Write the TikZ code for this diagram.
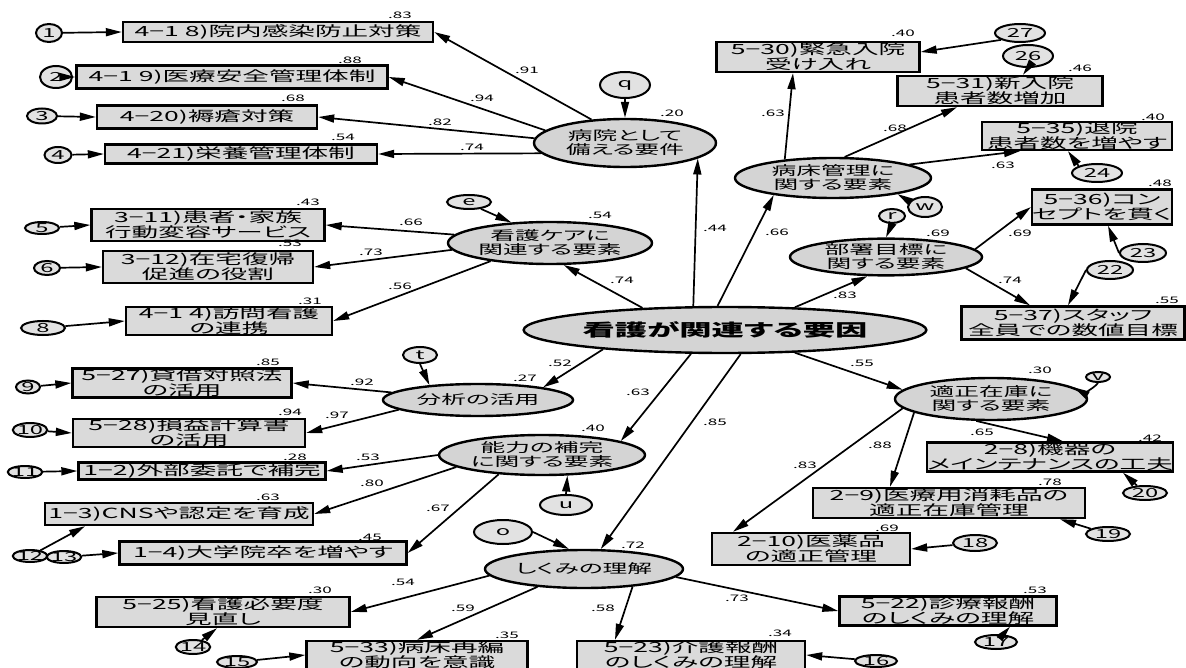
\documentclass[tikz,border=0pt]{standalone}
\usepackage{fontspec}
\setmainfont{Noto Sans CJK JP}[FakeStretch=1.9, RawFeature=+palt]
\usetikzlibrary{arrows.meta,shapes.geometric}

\definecolor{boxgray}{RGB}{218,218,218}
\definecolor{latgray}{RGB}{212,212,212}
\definecolor{errgray}{RGB}{226,226,226}
\newcommand{\boxfont}{\fontsize{14}{15}\selectfont}
\newcommand{\latfont}{\fontsize{13}{14}\selectfont}
\newcommand{\coeffont}{\fontsize{9}{9}\selectfont}
\newcommand{\errfont}{\fontsize{12.5}{12.5}\selectfont}

\begin{document}
\begin{tikzpicture}[
    x=1pt, y=-1pt,
    obs/.style={draw, line width=2.4pt, fill=boxgray, inner sep=0pt, align=center, font=\boxfont},
    lat/.style={ellipse, draw, line width=2.4pt, fill=latgray, inner sep=0pt, align=center, font=\latfont},
    err/.style={ellipse, draw, line width=2pt, fill=errgray, inner sep=-1pt, font=\errfont},
    arr/.style={-{Triangle[length=16pt,width=8pt]}, line width=1.7pt},
    coef/.style={inner sep=0pt, font=\coeffont},
]
    \useasboundingbox (0,0) rectangle (1186,668);

    % observed variables
    \node[obs, minimum width=310, minimum height=20] (b1) at (278,32) {4−1 8)院内感染防止対策};
    \node[obs, minimum width=311, minimum height=23] (b2) at (232,77) {4−1 9)医療安全管理体制};
    \node[obs, minimum width=220, minimum height=23] (b3) at (207,117) {4−20)褥瘡対策};
    \node[obs, minimum width=272, minimum height=19] (b4) at (241,154) {4−21)栄養管理体制};
    \node[obs, minimum width=233, minimum height=32] (b5) at (208,225) {3−11)患者・家族\\行動変容サービス};
    \node[obs, minimum width=210, minimum height=32] (b6) at (208,267) {3−12)在宅復帰\\促進の役割};
    \node[obs, minimum width=206, minimum height=27] (b8) at (229,321) {4−1 4)訪問看護\\の連携};
    \node[obs, minimum width=219, minimum height=29] (b9) at (182,383) {5−27)貸借対照法\\の活用};
    \node[obs, minimum width=232, minimum height=27] (b10) at (189,433) {5−28)損益計算書\\の活用};
    \node[obs, minimum width=247, minimum height=17] (b11) at (202,471) {1−2)外部委託で補完};
    \node[obs, minimum width=268, minimum height=22] (b12) at (179,514) {1−3)CNSや認定を育成};
    \node[obs, minimum width=287, minimum height=23] (b13) at (263,553) {1−4)大学院卒を増やす};
    \node[obs, minimum width=253, minimum height=30] (b14) at (223,612) {5−25)看護必要度\\見直し};
    \node[obs, minimum width=221, minimum height=26] (b15) at (417,655) {5−33)病床再編\\の動向を意識};
    \node[obs, minimum width=228, minimum height=28] (b16) at (691,655) {5−23)介護報酬\\のしくみの理解};
    \node[obs, minimum width=217, minimum height=29] (b17) at (948,611) {5−22)診療報酬\\のしくみの理解};
    \node[obs, minimum width=198, minimum height=32] (b18) at (811,549) {2−10)医薬品\\の適正管理};
    \node[obs, minimum width=272, minimum height=30] (b19) at (949,503) {2−9)医療用消耗品の\\適正在庫管理};
    \node[obs, minimum width=245, minimum height=29] (b20) at (1050,457) {2−8)機器の\\メインテナンスの工夫};
    \node[obs, minimum width=223, minimum height=33] (b22) at (1073,323) {5−37)スタッフ\\全員での数値目標};
    \node[obs, minimum width=130, minimum height=35] (b23) at (1102,207) {5−36)コン\\セプトを貫く};
    \node[obs, minimum width=190, minimum height=25] (b24) at (1077,136) {5−35)退院\\患者数を増やす};
    \node[obs, minimum width=205, minimum height=30] (b26) at (1000,91) {5−31)新入院\\患者数増加};
    \node[obs, minimum width=203, minimum height=30] (b27) at (818,57) {5−30)緊急入院\\受け入れ};

    % latent variables
    \node[lat, minimum width=182, minimum height=48] (hosp) at (625,143) {病院として\\備える要件};
    \node[lat, minimum width=204, minimum height=42] (care) at (550,243) {看護ケアに\\関連する要素};
    \node[lat, minimum width=384, minimum height=46, font=\fontsize{17}{18}\selectfont\bfseries] (cen) at (725,330) {看護が関連する要因};
    \node[lat, minimum width=196, minimum height=40] (ward) at (833,178) {病床管理に\\関する要素};
    \node[lat, minimum width=192, minimum height=34] (dept) at (886,257) {部署目標に\\関する要素};
    \node[lat, minimum width=190, minimum height=32] (ana) at (478,400) {分析の活用};
    \node[lat, minimum width=206, minimum height=40] (abil) at (542,455) {能力の補完\\に関する要素};
    \node[lat, minimum width=192, minimum height=42] (inv) at (991,399) {適正在庫に\\関する要素};
    \node[lat, minimum width=198, minimum height=38] (sys) at (584,569) {しくみの理解};

    % error terms
    \node[err, minimum width=26, minimum height=18] (e1) at (49,33) {1};
    \node[err, minimum width=32, minimum height=22] (e2) at (56,77) {2};
    \node[err, minimum width=30, minimum height=15] (e3) at (42,116) {3};
    \node[err, minimum width=27, minimum height=16] (e4) at (58,155) {4};
    \node[err, minimum width=34, minimum height=12] (e5) at (42,228) {5};
    \node[err, minimum width=26, minimum height=14] (e6) at (47,268) {6};
    \node[err, minimum width=44, minimum height=14] (e8) at (43,328) {8};
    \node[err, minimum width=24, minimum height=13] (e9) at (28,387) {9};
    \node[err, minimum width=34, minimum height=14] (e10) at (30,430) {10};
    \node[err, minimum width=24, minimum height=12] (e11) at (25,472) {11};
    \node[err, minimum width=26, minimum height=12] (e12) at (30,556) {12};
    \node[err, minimum width=32, minimum height=12] (e13) at (64,557) {13};
    \node[err, minimum width=34, minimum height=14] (e14) at (193,647) {14};
    \node[err, minimum width=40, minimum height=12] (e15) at (237,662) {15};
    \node[err, minimum width=42, minimum height=12] (e16) at (876,661) {16};
    \node[err, minimum width=42, minimum height=14] (e17) at (996,642) {17};
    \node[err, minimum width=44, minimum height=16] (e18) at (975,543) {18};
    \node[err, minimum width=44, minimum height=14] (e19) at (1108,534) {19};
    \node[err, minimum width=44, minimum height=14] (e20) at (1145,493) {20};
    \node[err, minimum width=46, minimum height=18] (e22) at (1110,270) {22};
    \node[err, minimum width=46, minimum height=18] (e23) at (1143,253) {23};
    \node[err, minimum width=50, minimum height=18] (e24) at (1097,173) {24};
    \node[err, minimum width=50, minimum height=22] (e26) at (1028,56) {26};
    \node[err, minimum width=50, minimum height=18] (e27) at (1020,33) {27};
    \node[err, minimum width=50, minimum height=26] (eq) at (625,85) {q};
    \node[err, minimum width=44, minimum height=14] (ee) at (469,202) {e};
    \node[err, minimum width=34, minimum height=16] (et) at (420,355) {t};
    \node[err, minimum width=52, minimum height=20] (eu) at (566,505) {u};
    \node[err, minimum width=58, minimum height=24] (eo) at (503,532) {o};
    \node[err, minimum width=26, minimum height=14] (er) at (892,216) {r};
    \node[err, minimum width=34, minimum height=20] (ew) at (925,207) {w};
    \node[err, minimum width=24, minimum height=10] (ev) at (1098,377) {v};

    % paths from the general factor
    \draw[arr] (cen.143) -- (hosp.348);
    \draw[arr] (cen.165) -- (care.302);
    \draw[arr] (cen.107) -- (ward.196);
    \draw[arr] (cen.18) -- (dept.226);
    \draw[arr] (cen.189) -- (ana.11);
    \draw[arr] (cen.215) -- (abil.10);
    \draw[arr] (cen.303) -- (sys.50);
    \draw[arr] (cen.342) -- (inv.174);

    % loadings
    \draw[arr] (hosp.145) -- (b1.east);
    \draw[arr] (hosp.171) -- (b2.east);
    \draw[arr] (hosp.177) -- (b3.east);
    \draw[arr] (hosp.187) -- (b4.east);
    \draw[arr] (care.175) -- (b5.east);
    \draw[arr] (care.184) -- (b6.east);
    \draw[arr] (care.197) -- (b8.east);
    \draw[arr] (ward.159) -- ([xshift=-25pt]b27.south);
    \draw[arr] (ward.61) -- ([xshift=-43pt]b26.south);
    \draw[arr] (ward.10) -- ([xshift=-57pt]b24.south);
    \draw[arr] (dept.5) -- (b23.west);
    \draw[arr] (dept.352) -- ([xshift=-43pt]b22.north);
    \draw[arr] (ana.175) -- (b9.east);
    \draw[arr] (ana.187) -- (b10.east);
    \draw[arr] (abil.180) -- (b11.east);
    \draw[arr] (abil.188) -- (b12.east);
    \draw[arr] (abil.204) -- (b13.east);
    \draw[arr] (sys.184) -- (b14.east);
    \draw[arr] (sys.201) -- (b15.north);
    \draw[arr] (sys.340) -- ([xshift=-76pt]b16.north);
    \draw[arr] (sys.355) -- (b17.west);
    \draw[arr] (inv.236) -- ([xshift=13pt]b20.north);
    \draw[arr] (inv.190) -- ([xshift=-59pt]b19.north);
    \draw[arr] (inv.186) -- ([xshift=-78pt]b18.north);

    % disturbances
    \draw[arr] (eq.south) -- (hosp.north);
    \draw[arr] (ee.330) -- (care.152);
    \draw[arr] (ew.160) -- (ward.346);
    \draw[arr] (er.south) -- (dept.north);
    \draw[arr] (et.south) -- (ana.163);
    \draw[arr] (eu.north) -- (abil.321);
    \draw[arr] (eo.east) -- (sys.127);
    \draw[arr] (ev.south) to[bend left=40] (inv.8);

    % measurement errors
    \draw[arr] (e1) -- (b1.west);
    \draw[arr] (e2) -- (b2.west);
    \draw[arr] (e3) -- (b3.west);
    \draw[arr] (e4) -- (b4.west);
    \draw[arr] (e5) -- (b5.west);
    \draw[arr] (e6) -- (b6.west);
    \draw[arr] (e8) -- (b8.west);
    \draw[arr] (e9) -- (b9.west);
    \draw[arr] (e10) -- (b10.west);
    \draw[arr] (e11) -- (b11.west);
    \draw[arr] (e12) -- ([xshift=-94pt]b12.south);
    \draw[arr] (e13) -- (b13.west);
    \draw[arr] (e14) -- ([xshift=-6pt]b14.south);
    \draw[arr] (e15) -- (b15.west);
    \draw[arr] (e16) -- (b16.east);
    \draw[arr] (e17) -- ([xshift=62pt]b17.south);
    \draw[arr] (e18) -- (b18.east);
    \draw[arr] (e19) -- ([xshift=111pt]b19.south);
    \draw[arr] (e20) -- ([xshift=73pt]b20.south);
    \draw[arr] (e22.west) -- ([xshift=-5pt]b22.north);
    \draw[arr] (e23.west) -- ([xshift=6pt]b23.south);
    \draw[arr] (e24.north west) -- ([xshift=-9pt]b24.south);
    \draw[arr] (e26.south) -- ([xshift=23pt]b26.north);
    \draw[arr] (e27.200) -- ([yshift=5pt]b27.east);

    % squared multiple correlations
    \foreach \px/\py/\val [count=\i] in {400/15/.83, 350/60/.88, 293/98/.68, 343/137/.54,
        672/113/.20, 903/33/.40, 1080/68/.46, 1153/117/.40, 1160/183/.48,
        308/202/.43, 290/243/.53, 310/301/.31, 600/215/.54, 938/233/.69, 1167/300/.55,
        268/362/.85, 290/412/.94, 295/457/.28, 268/497/.63, 370/537/.45,
        525/378/.27, 593/428/.40, 633/545/.72, 1040/370/.30,
        1150/438/.42, 1050/482/.78, 887/528/.69,
        320/590/.30, 507/635/.35, 780/633/.34, 1035/590/.53}
        \node[coef] (rsq\i) at (\px,\py) {\val};

    % path coefficients
    \foreach \px/\py/\val [count=\i] in {527/70/.91, 482/98/.94, 440/122/.82, 472/147/.74,
        715/228/.44, 777/232/.66, 773/113/.63, 895/128/.68, 1003/165/.63,
        411/222/.66, 371/252/.73, 400/286/.56, 622/280/.74,
        845/295/.83, 1020/233/.69, 1010/280/.74,
        560/363/.52, 362/382/.92, 337/415/.97,
        638/392/.63, 715/422/.85, 368/457/.53, 372/483/.80, 438/508/.67,
        862/363/.55, 982/432/.65, 880/445/.88, 805/465/.83,
        403/582/.54, 463/608/.59, 603/608/.58, 737/598/.73}
        \node[coef] (coef\i) at (\px,\py) {\val};
\end{tikzpicture}
\end{document}
